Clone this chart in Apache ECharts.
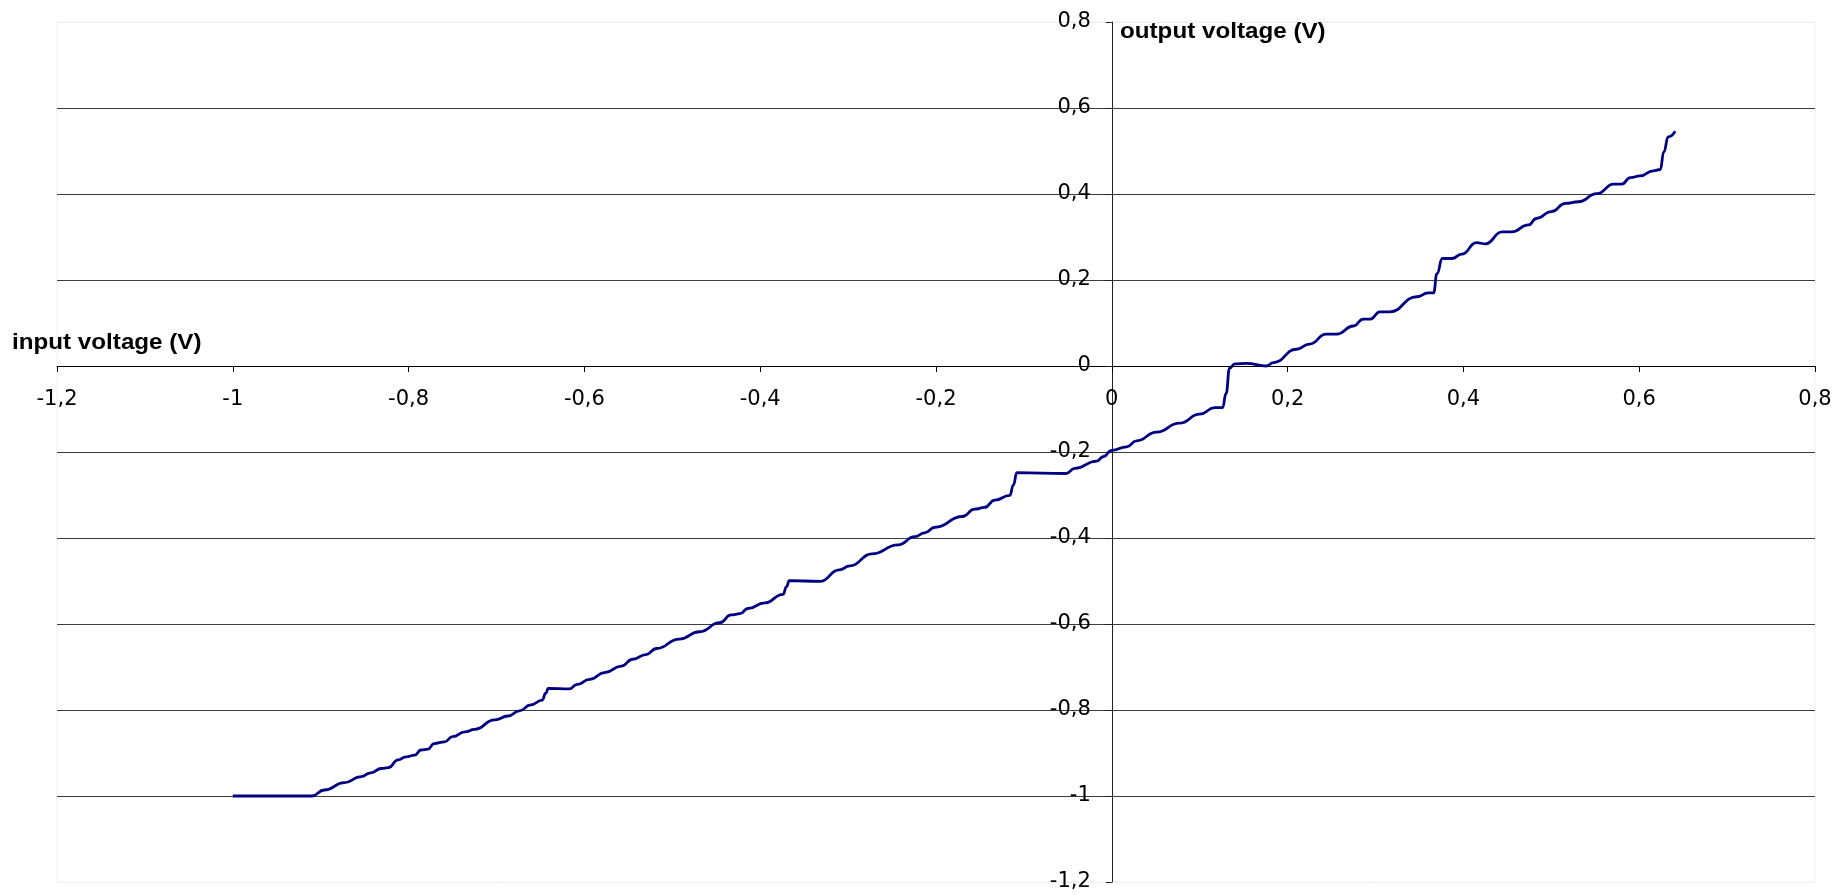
<!DOCTYPE html>
<html>
<head>
<meta charset="utf-8">
<title>Transfer characteristic</title>
<script src="https://cdn.jsdelivr.net/npm/echarts@6/dist/echarts.min.js"></script>
<style>
  html, body { margin: 0; padding: 0; background: #fff; }
  #chart { width: 1835px; height: 895px; }
</style>
</head>
<body>
<div id="chart"></div>
<script>
// Measured transfer curve: input voltage (V) vs output voltage (V)
const inputV = [
  -1.000, -0.910, -0.896, -0.873, -0.854, -0.843, -0.831, -0.823, -0.812, -0.803,
  -0.793, -0.786, -0.778, -0.771, -0.759, -0.750, -0.736, -0.725, -0.702, -0.687,
  -0.674, -0.661, -0.648, -0.644, -0.641, -0.617, -0.609, -0.594, -0.577, -0.558,
  -0.545, -0.530, -0.518, -0.492, -0.469, -0.446, -0.433, -0.423, -0.414, -0.395,
  -0.374, -0.370, -0.367, -0.332, -0.310, -0.298, -0.273, -0.243, -0.224, -0.213,
  -0.201, -0.170, -0.156, -0.145, -0.133, -0.116, -0.112, -0.108, -0.052, -0.042,
  -0.017, -0.010, 0.000, 0.017, 0.028, 0.051, 0.077, 0.100, 0.117, 0.126,
  0.130, 0.134, 0.140, 0.153, 0.176, 0.184, 0.210, 0.225, 0.244, 0.256,
  0.275, 0.286, 0.294, 0.305, 0.316, 0.347, 0.360, 0.366, 0.370, 0.376,
  0.387, 0.398, 0.415, 0.425, 0.444, 0.455, 0.474, 0.483, 0.500, 0.516,
  0.531, 0.552, 0.571, 0.580, 0.590, 0.601, 0.616, 0.624, 0.628, 0.633,
  0.641
];
const outputV = [
  -1.000, -1.000, -0.986, -0.969, -0.955, -0.946, -0.936, -0.934, -0.916, -0.909,
  -0.905, -0.893, -0.891, -0.878, -0.874, -0.862, -0.851, -0.845, -0.823, -0.814,
  -0.802, -0.788, -0.777, -0.761, -0.750, -0.751, -0.741, -0.729, -0.713, -0.698,
  -0.682, -0.671, -0.657, -0.635, -0.618, -0.597, -0.579, -0.576, -0.564, -0.551,
  -0.531, -0.513, -0.499, -0.501, -0.474, -0.465, -0.437, -0.416, -0.397, -0.388,
  -0.375, -0.350, -0.333, -0.329, -0.312, -0.301, -0.277, -0.248, -0.250, -0.238,
  -0.221, -0.211, -0.196, -0.188, -0.174, -0.154, -0.133, -0.112, -0.097, -0.097,
  -0.064, -0.005, 0.005, 0.006, 0.000, 0.008, 0.039, 0.051, 0.074, 0.074,
  0.093, 0.109, 0.109, 0.126, 0.126, 0.161, 0.170, 0.170, 0.215, 0.250,
  0.250, 0.260, 0.287, 0.284, 0.312, 0.312, 0.328, 0.343, 0.359, 0.378,
  0.382, 0.401, 0.423, 0.423, 0.438, 0.442, 0.454, 0.457, 0.498, 0.533,
  0.546
];

// Axis ticks (decimal comma labels)
const axisMin = -1.2;
const axisMax = 0.8;
const axisStep = 0.2;
const xTickLabels = ['-1,2', '-1', '-0,8', '-0,6', '-0,4', '-0,2', '0', '0,2', '0,4', '0,6', '0,8'];
const yTickLabels = ['-1,2', '-1', '-0,8', '-0,6', '-0,4', '-0,2', '0', '0,2', '0,4', '0,6', '0,8'];

const xTitle = 'input voltage (V)';
const yTitle = 'output voltage (V)';

const TICK_FONT = '"DejaVu Sans", "Liberation Sans", Arial, sans-serif';
const TITLE_FONT = '"Liberation Sans", Arial, sans-serif';

// plot area inside the 1835 x 895 canvas
const W = 1835, H = 895;
const G = { left: 57, right: 20, top: 22, bottom: 13 };
const plotW = W - G.left - G.right;
const plotH = H - G.top - G.bottom;
// both axes cross at the origin: shift them from their edge to the zero position
const zeroFrac = (0 - axisMin) / (axisMax - axisMin);
const yAxisShift = -plotW * zeroFrac;   // left edge -> x = 0
const xAxisShift = -plotH * zeroFrac;   // bottom edge -> y = 0

function tickText(labels) {
  return function (v) {
    const i = Math.round((v - axisMin) / axisStep);
    return labels[i] !== undefined ? labels[i] : '';
  };
}

const points = inputV.map((x, i) => [x, outputV[i]]);

// horizontal gridlines: faint at the plot edges, dark inside
const gridColors = yTickLabels.map((_, i) =>
  (i === 0 || i === yTickLabels.length - 1) ? '#eeeeee' : '#3c3c3c');

const chart = echarts.init(document.getElementById('chart'), null, { renderer: 'canvas' });

chart.setOption({
  backgroundColor: '#ffffff',
  animation: false,
  grid: {
    left: G.left, right: G.right, top: G.top, bottom: G.bottom,
    show: true, borderColor: '#f0f0f0', borderWidth: 1
  },
  xAxis: {
    type: 'value',
    position: 'bottom',
    offset: xAxisShift,
    min: axisMin, max: axisMax, interval: axisStep,
    axisLine: { show: true, onZero: false, lineStyle: { color: '#000', width: 1 } },
    axisTick: { show: true, inside: false, length: 6, lineStyle: { color: '#000', width: 1 } },
    axisLabel: {
      margin: 23, color: '#000', fontSize: 21, fontFamily: TICK_FONT,
      formatter: tickText(xTickLabels), showMinLabel: true, showMaxLabel: true
    },
    splitLine: { show: false }
  },
  yAxis: {
    type: 'value',
    position: 'left',
    offset: yAxisShift,
    min: axisMin, max: axisMax, interval: axisStep,
    axisLine: { show: true, onZero: false, lineStyle: { color: '#222', width: 1 } },
    axisTick: { show: true, inside: false, length: 6, lineStyle: { color: '#222', width: 1 } },
    axisLabel: {
      margin: 21, color: '#000', fontSize: 21, fontFamily: TICK_FONT,
      formatter: tickText(yTickLabels), showMinLabel: true, showMaxLabel: true
    },
    splitLine: { show: true, lineStyle: { color: gridColors, width: 1.2 } }
  },
  graphic: [
    {
      type: 'text', x: 12, y: 332, scaleX: 1.1, scaleY: 1, z: 100,
      style: { text: xTitle, font: 'bold 22px ' + TITLE_FONT, fill: '#000', verticalAlign: 'top' }
    },
    {
      type: 'text', x: 1120, y: 21, scaleX: 1.1, scaleY: 1, z: 100,
      style: { text: yTitle, font: 'bold 22px ' + TITLE_FONT, fill: '#000', verticalAlign: 'top' }
    }
  ],
  series: [{
    type: 'line',
    data: points,
    showSymbol: false,
    smooth: 0.5,
    smoothMonotone: 'x',
    lineStyle: { color: '#000080', width: 2.8 },
    z: 5
  }]
});
</script>
</body>
</html>
